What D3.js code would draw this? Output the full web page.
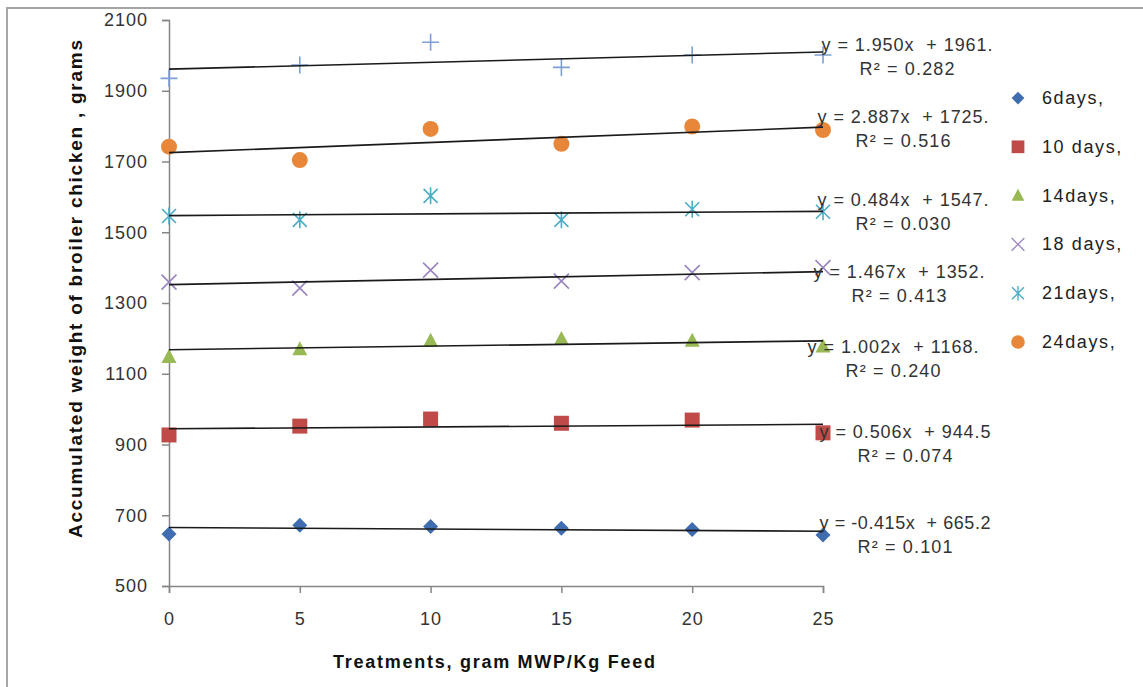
<!DOCTYPE html>
<html>
<head>
<meta charset="utf-8">
<script src="https://cdn.jsdelivr.net/npm/d3@7"></script>
<style>
  body { margin: 0; background: white; }
  text { font-family: "Liberation Sans", Arial, sans-serif; }
</style>
</head>
<body>
<svg id="chart" width="1143" height="687"></svg>
<script>
// treatments on the x axis (gram MWP / Kg feed)
const treatments = [0, 5, 10, 15, 20, 25]

// accumulated weight (grams)
const day6  = [647, 672, 668, 663, 660, 644]
const day10 = [927, 952, 972, 960, 969, 933]
const day14 = [1147, 1169, 1193, 1198, 1193, 1177]
const day18 = [1359, 1342, 1393, 1362, 1386, 1400]
const day21 = [1546, 1535, 1603, 1535, 1565, 1558]
const day24 = [1742, 1704, 1792, 1750, 1799, 1789]
const day28 = [1935, 1973, 2037, 1966, 2001, 2001]   // no legend entry in the original

const legendNames = ['6days,', '10 days,', '14days,', '18 days,', '21days,', '24days,']

// trend lines as printed on the chart
const slopes     = [-0.415, 0.506, 1.002, 1.467, 0.484, 2.887, 1.950]
const intercepts = [665.2, 944.5, 1168, 1352, 1547, 1725, 1961]
const eqLabels = [
  'y = -0.415x  + 665.2',
  'y = 0.506x  + 944.5',
  'y = 1.002x  + 1168.',
  'y = 1.467x  + 1352.',
  'y = 0.484x  + 1547.',
  'y = 2.887x  + 1725.',
  'y = 1.950x  + 1961.'
]
const r2Labels = ['R² = 0.101', 'R² = 0.074', 'R² = 0.240', 'R² = 0.413', 'R² = 0.030', 'R² = 0.516', 'R² = 0.282']

const yTicks = [500, 700, 900, 1100, 1300, 1500, 1700, 1900, 2100]
const xTicks = [0, 5, 10, 15, 20, 25]

// styling per series
const colors  = ['#3F6DB0', '#BE4B48', '#98B954', '#9A85BF', '#4BACC6', '#E8873A', '#7E9ED6']
const shapes  = ['diamond', 'square', 'triangle', 'x', 'star', 'circle', 'plus']
// hand placement of the equation boxes, like in the source file
const labelNudge = [[0, -8], [0, 8], [-12, 6], [-6, 0], [-2, -11], [-2, -10], [2, -7]]

const allSeries = [day6, day10, day14, day18, day21, day24, day28]

const svg = d3.select('#chart')

// outer chart frame (only top and left edges show in the crop)
svg.append('rect')
  .attr('x', 7).attr('y', 8)
  .attr('width', 1300).attr('height', 800)
  .attr('fill', 'none')
  .attr('stroke', '#a6a6a6')
  .attr('stroke-width', 2)

const x = d3.scaleLinear().domain([0, 25]).range([169, 823])
const y = d3.scaleLinear().domain([500, 2100]).range([586, 20])

const axisColor = '#868686'

const yAxis = svg.append('g')
  .attr('transform', `translate(${x(0)},0)`)
  .call(d3.axisLeft(y).tickValues(yTicks).tickSize(7).tickPadding(14).tickFormat(d3.format('d')))
const xAxis = svg.append('g')
  .attr('transform', `translate(0,${y(500)})`)
  .call(d3.axisBottom(x).tickValues(xTicks).tickSize(7).tickPadding(19).tickFormat(d3.format('d')))

;[yAxis, xAxis].forEach(ax => {
  ax.select('.domain').attr('stroke', axisColor).attr('stroke-width', 1.5)
  ax.selectAll('.tick line').attr('stroke', axisColor).attr('stroke-width', 1.5)
  ax.selectAll('.tick text')
    .attr('fill', '#333')
    .style('font-size', '18px')
    .style('letter-spacing', '1px')
    .style('font-family', '"Liberation Sans", Arial, sans-serif')
})

// axis titles
svg.append('text')
  .attr('transform', 'translate(82,289) rotate(-90)')
  .attr('text-anchor', 'middle')
  .attr('textLength', 498)
  .style('font-size', '19px')
  .style('font-weight', 'bold')
  .attr('fill', '#111')
  .text('Accumulated weight of broiler chicken , grams')

svg.append('text')
  .attr('x', 494).attr('y', 668)
  .attr('text-anchor', 'middle')
  .attr('textLength', 322)
  .style('font-size', '18px')
  .style('font-weight', 'bold')
  .attr('fill', '#111')
  .text('Treatments, gram MWP/Kg Feed')

// marker drawing
function markerPath(shape){
  const p = d3.path()
  if(shape == 'diamond'){
    p.moveTo(0, -7.5); p.lineTo(7.5, 0); p.lineTo(0, 7.5); p.lineTo(-7.5, 0); p.closePath()
  } else if(shape == 'square'){
    p.rect(-7.5, -7.5, 15, 15)
  } else if(shape == 'triangle'){
    p.moveTo(0, -8); p.lineTo(7.5, 6); p.lineTo(-7.5, 6); p.closePath()
  } else if(shape == 'circle'){
    p.arc(0, 0, 8, 0, 2 * Math.PI)
  } else if(shape == 'x'){
    p.moveTo(-7.5, -7.5); p.lineTo(7.5, 7.5); p.moveTo(-7.5, 7.5); p.lineTo(7.5, -7.5)
  } else if(shape == 'star'){
    p.moveTo(-7, -7); p.lineTo(7, 7); p.moveTo(-7, 7); p.lineTo(7, -7)
    p.moveTo(0, -8.5); p.lineTo(0, 8.5)
  } else if(shape == 'plus'){
    p.moveTo(-8.5, 0); p.lineTo(8.5, 0); p.moveTo(0, -8.5); p.lineTo(0, 8.5)
  }
  return p.toString()
}
const filled = s => ['diamond', 'square', 'triangle', 'circle'].includes(s)

function drawMarker(g, shape, color){
  g.append('path')
    .attr('d', markerPath(shape))
    .attr('fill', filled(shape) ? color : 'none')
    .attr('stroke', filled(shape) ? 'none' : color)
    .attr('stroke-width', 1.6)
}

// points
allSeries.forEach((vals, i) => {
  const g = svg.append('g').attr('class', 'series-' + i)
  vals.forEach((v, j) => {
    const m = g.append('g').attr('transform', `translate(${x(treatments[j])},${y(v)})`)
    drawMarker(m, shapes[i], colors[i])
  })
})

// trend lines
const trendLine = d3.line().x(d => x(d[0])).y(d => y(d[1]))
allSeries.forEach((vals, i) => {
  const ends = [0, 25].map(t => [t, intercepts[i] + slopes[i] * t])
  svg.append('path')
    .attr('d', trendLine(ends))
    .attr('fill', 'none')
    .attr('stroke', '#1a1a1a')
    .attr('stroke-width', 1.6)
})

// equation labels
allSeries.forEach((vals, i) => {
  const endY = y(intercepts[i] + slopes[i] * 25)
  const cx = x(25) + 82 + labelNudge[i][0]
  const cy = endY + labelNudge[i][1]
  const t = svg.append('text')
    .attr('text-anchor', 'middle')
    .attr('fill', '#333')
    .style('font-size', '18px')
    .style('white-space', 'pre')
  t.append('tspan').attr('x', cx).attr('y', cy + 6)
    .attr('textLength', 171)
    .text(eqLabels[i])
  t.append('tspan').attr('x', cx).attr('y', cy + 30)
    .attr('textLength', 95)
    .text(r2Labels[i])
})

// legend
const legend = svg.append('g').attr('transform', 'translate(1018,98)')
legendNames.forEach((name, i) => {
  const row = legend.append('g').attr('transform', `translate(0,${i * 48.8})`)
  const m = row.append('g').attr('transform', 'scale(0.85)')
  drawMarker(m, shapes[i], colors[i])
  row.append('text')
    .attr('x', 24).attr('y', 6)
    .attr('fill', '#222')
    .style('font-size', '18px')
    .style('letter-spacing', '1.6px')
    .text(name)
})
</script>
</body>
</html>
